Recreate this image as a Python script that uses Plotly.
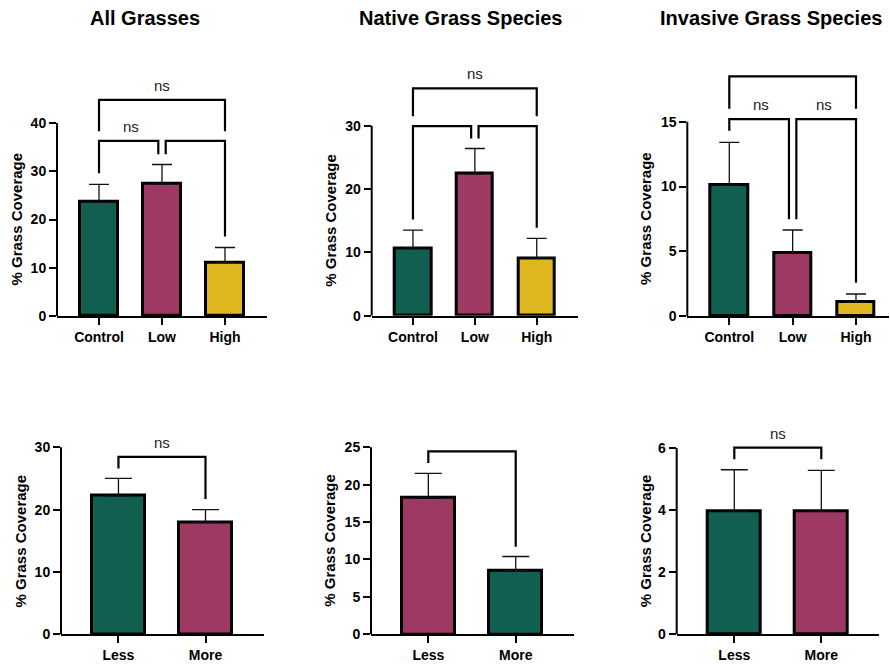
import plotly.graph_objects as go

# ---------------- data ----------------
groups_top = ["Control", "Low", "High"]
groups_bottom = ["Less", "More"]

all_mean = [23.6, 27.4, 11.1]
all_err = [3.7, 4.0, 3.1]
native_mean = [10.7, 22.4, 9.1]
native_err = [2.8, 4.0, 3.1]
invasive_mean = [10.1, 4.84, 1.06]
invasive_err = [3.3, 1.8, 0.64]

all2_mean = [22.2, 18.0]
all2_err = [2.8, 2.0]
native2_mean = [18.2, 8.5]
native2_err = [3.3, 1.9]
invasive2_mean = [3.97, 3.97]
invasive2_err = [1.33, 1.31]

titles = ["All Grasses", "Native Grass Species", "Invasive Grass Species"]

# comparison brackets: (group a, group b, bracket level, tip a, tip b, label)
brackets_all = [(0, 1, 36.3, 29.6, 33.5, "ns"), (1, 2, 36.3, 33.5, 16.5, ""), (0, 2, 44.8, 38.3, 38.3, "ns")]
brackets_native = [(0, 1, 29.95, 15.2, 28.0, ""), (1, 2, 29.95, 28.0, 13.9, ""), (0, 2, 35.9, 31.5, 31.5, "ns")]
brackets_invasive = [(0, 1, 15.2, 14.3, 7.47, "ns"), (1, 2, 15.2, 7.47, 2.57, "ns"), (0, 2, 18.5, 16.0, 16.0, "")]
brackets_all2 = [(0, 1, 28.45, 26.6, 21.7, "ns")]
brackets_native2 = [(0, 1, 24.46, 22.9, 11.7, "")]
brackets_invasive2 = [(0, 1, 6.01, 5.64, 5.64, "ns")]

GREEN = "#115F50"
MAG = "#9E3963"
YEL = "#DFB71E"

W, H = 890, 665
FONT = "Liberation Sans, Arial, sans-serif"

# panel geometry in pixels: x left, x right, y of zero, y of range top
panels = [
    dict(cats=groups_top, mean=all_mean, err=all_err, colors=[GREEN, MAG, YEL], br=brackets_all,
         px=(57, 267), py=(316, 74.75), xr=(-0.667, 2.667), yr=(0, 50), tv=[0, 10, 20, 30, 40],
         bw=0.59, cap=10, tx=16),
    dict(cats=groups_top, mean=native_mean, err=native_err, colors=[GREEN, MAG, YEL], br=brackets_native,
         px=(371.7, 578), py=(315.7, 62.4), xr=(-0.667, 2.667), yr=(0, 40), tv=[0, 10, 20, 30],
         bw=0.59, cap=10, tx=331),
    dict(cats=groups_top, mean=invasive_mean, err=invasive_err, colors=[GREEN, MAG, YEL], br=brackets_invasive,
         px=(687.3, 889), py=(316, 57), xr=(-0.663, 2.521), yr=(0, 20), tv=[0, 5, 10, 15],
         bw=0.59, cap=10, tx=646),
    dict(cats=groups_bottom, mean=all2_mean, err=all2_err, colors=[GREEN, MAG], br=brackets_all2,
         px=(61, 264), py=(634.3, 428.6), xr=(-0.66, 1.672), yr=(0, 33), tv=[0, 10, 20, 30],
         bw=0.61, cap=13.5, tx=20.7),
    dict(cats=groups_bottom, mean=native2_mean, err=native2_err, colors=[MAG, GREEN], br=brackets_native2,
         px=(371, 574), py=(634.3, 439.8), xr=(-0.656, 1.667), yr=(0, 26), tv=[0, 5, 10, 15, 20, 25],
         bw=0.61, cap=13.5, tx=330),
    dict(cats=groups_bottom, mean=invasive2_mean, err=invasive2_err, colors=[GREEN, MAG], br=brackets_invasive2,
         px=(676.7, 879), py=(634.3, 426.3), xr=(-0.662, 1.663), yr=(0, 6.7), tv=[0, 2, 4, 6],
         bw=0.61, cap=13.5, tx=645),
]

fig = go.Figure()
layout = {}
annotations = []
shapes = []

for i, p in enumerate(panels):
    n = i + 1
    xa = "x" if n == 1 else f"x{n}"
    ya = "y" if n == 1 else f"y{n}"
    xs = list(range(len(p["cats"])))

    fig.add_trace(go.Bar(
        x=xs, y=p["mean"], width=p["bw"], xaxis=xa, yaxis=ya,
        marker=dict(color=p["colors"], line=dict(color="black", width=3)),
        error_y=dict(type="data", array=p["err"], arrayminus=[0] * len(xs), symmetric=False,
                     color="#111111", thickness=1.3, width=p["cap"]),
        showlegend=False, hoverinfo="x+y",
    ))

    # brackets
    xspan = p["xr"][1] - p["xr"][0]
    unit_px = (p["px"][1] - p["px"][0]) / xspan
    gap = 3.7 / unit_px
    levels = {}
    for (a, b, lvl, ta, tb, lab) in p["br"]:
        levels.setdefault(lvl, []).append((a, b))
    for (a, b, lvl, ta, tb, lab) in p["br"]:
        xa0, xb0 = float(a), float(b)
        for (c, d) in levels[lvl]:
            if (c, d) != (a, b):
                if d == a:
                    xa0 = a + gap
                if c == b:
                    xb0 = b - gap
        fig.add_trace(go.Scatter(
            x=[xa0, xa0, xb0, xb0], y=[ta, lvl, lvl, tb], mode="lines",
            line=dict(color="black", width=2.2), xaxis=xa, yaxis=ya,
            showlegend=False, hoverinfo="skip",
        ))
        if lab:
            annotations.append(dict(
                x=(a + b) / 2, y=lvl, xref=xa, yref=ya, text=lab, showarrow=False,
                yanchor="middle", yshift=14.5, font=dict(family=FONT, size=15, color="#222222"),
            ))

    dom_x = [p["px"][0] / W, p["px"][1] / W]
    dom_y = [1 - p["py"][0] / H, 1 - p["py"][1] / H]
    axkey = "xaxis" if n == 1 else f"xaxis{n}"
    aykey = "yaxis" if n == 1 else f"yaxis{n}"
    layout[axkey] = dict(
        domain=dom_x, anchor=ya, range=list(p["xr"]), tickvals=xs, ticktext=p["cats"],
        showline=True, linecolor="black", linewidth=2, ticks="outside", ticklen=7, tickwidth=2,
        tickcolor="black", showgrid=False, zeroline=False, automargin=False,
        tickfont=dict(family=FONT, size=14, color="black", weight="bold"),
    )
    layout[aykey] = dict(
        domain=dom_y, anchor=xa, range=list(p["yr"]), tickvals=p["tv"],
        showline=False, ticks="outside", ticklen=7, tickwidth=2, tickcolor="black",
        showgrid=False, zeroline=False, automargin=False,
        tickfont=dict(family=FONT, size=14, color="black", weight="bold"),
    )
    # y axis line only up to the top tick
    shapes.append(dict(type="line", xref=f"{xa} domain", yref=ya, x0=0, x1=0,
                       y0=p["yr"][0], y1=max(p["tv"]), line=dict(color="black", width=2)))
    # y axis title
    annotations.append(dict(
        x=p["tx"] / W, xref="paper", y=max(p["tv"]) / 2, yref=ya, text="% Grass Coverage",
        textangle=-90, showarrow=False, xanchor="center", yanchor="middle",
        font=dict(family=FONT, size=15, color="black", weight="bold"),
    ))

for t, cx in zip(titles, [145, 460, 771]):
    annotations.append(dict(
        x=cx / W, y=1 - 18 / H, xref="paper", yref="paper", text=t, showarrow=False,
        xanchor="center", yanchor="middle", font=dict(family=FONT, size=20, color="black", weight="bold"),
    ))

fig.update_layout(
    width=W, height=H, autosize=False, margin=dict(l=0, r=0, t=0, b=0, pad=0),
    paper_bgcolor="white", plot_bgcolor="white", showlegend=False,
    annotations=annotations, shapes=shapes, bargap=0, **layout,
)

fig.write_html(
    "out.html",
    config={"displayModeBar": False, "responsive": False},
    post_script="document.body.style.margin='0';document.body.style.overflow='hidden';",
)
